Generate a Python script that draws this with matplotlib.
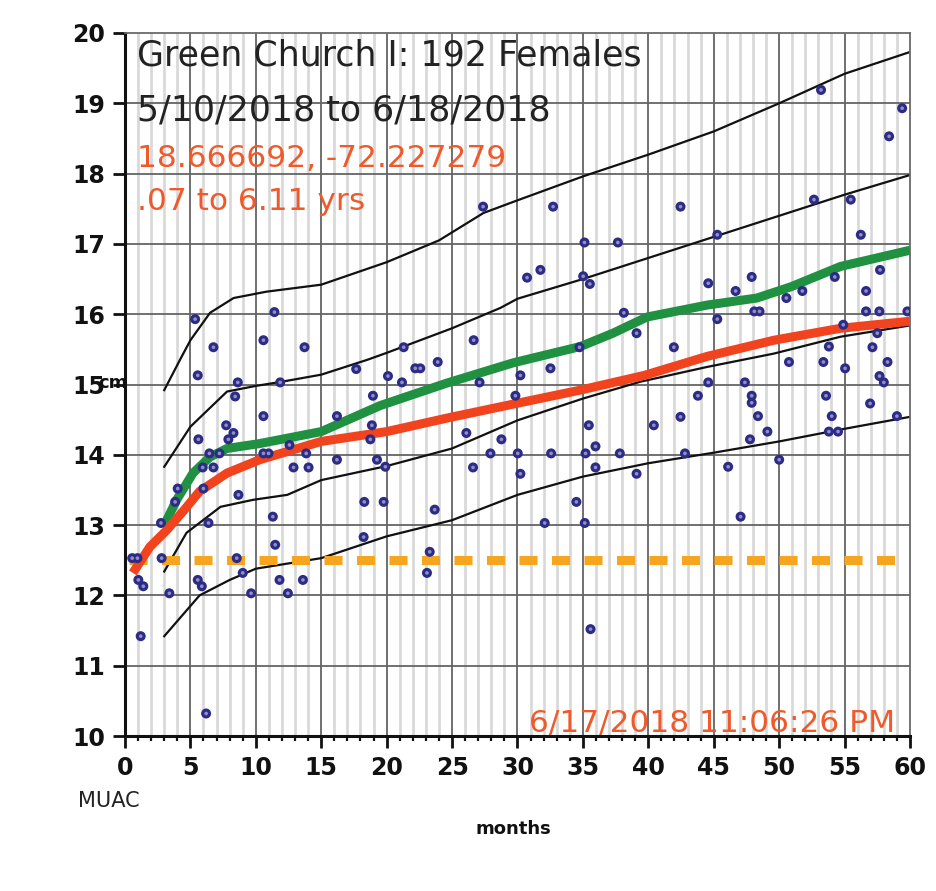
"""MUAC growth chart: Green Church I, females, with reference percentile curves."""

import matplotlib
matplotlib.use("Agg")
import matplotlib.pyplot as plt
from matplotlib.ticker import MultipleLocator

# --- data --------------------------------------------------------------------
# reference percentile curves (black)
p_top_x = [3, 4.2, 5, 6.5, 8.3, 10.8, 15, 20, 24, 27.4, 30, 35, 40, 45, 50, 55, 60]
p_top_y = [14.92, 15.35, 15.63, 16.02, 16.23, 16.32, 16.42, 16.74, 17.05, 17.44,
           17.62, 17.96, 18.27, 18.6, 19.0, 19.42, 19.73]

p_hi_x = [3, 5, 7.8, 10, 12, 15, 18.5, 20, 25, 28.7, 30, 35, 40, 45, 50, 55, 60]
p_hi_y = [13.83, 14.4, 14.9, 14.98, 15.04, 15.14, 15.35, 15.45, 15.8, 16.09,
          16.22, 16.5, 16.8, 17.1, 17.4, 17.7, 17.98]

p_mid_x = [3, 4.7, 7.3, 9.8, 12.4, 15, 20, 25, 30, 35, 39.4, 44.5, 49.6, 54.7, 60]
p_mid_y = [12.34, 12.89, 13.26, 13.36, 13.43, 13.64, 13.84, 14.09, 14.49, 14.8,
           15.04, 15.25, 15.44, 15.68, 15.84]

p_low_x = [3, 5.7, 8, 10, 15, 20, 25, 30, 35, 40, 45, 50, 55, 60]
p_low_y = [11.42, 12.0, 12.22, 12.38, 12.53, 12.84, 13.07, 13.43, 13.69, 13.88,
           14.03, 14.19, 14.37, 14.54]

# local smoothed curves
green_x = [3, 3.95, 5.2, 6.5, 7.8, 10.3, 15, 19.5, 24.6, 29.7, 34.8, 37.3, 39.9,
           44.5, 48.3, 50.9, 54.7, 60]
green_y = [13.0, 13.36, 13.74, 13.97, 14.09, 14.16, 14.33, 14.70, 15.02, 15.31,
           15.54, 15.73, 15.96, 16.13, 16.23, 16.39, 16.68, 16.91]

red_x = [0.6, 1.9, 3.2, 4.5, 5.7, 7.8, 10.3, 15, 20, 24.8, 29.9, 34.8, 39.7,
         44.5, 49.6, 54.7, 60]
red_y = [12.32, 12.69, 12.93, 13.21, 13.48, 13.74, 13.93, 14.19, 14.33, 14.53,
         14.73, 14.92, 15.13, 15.40, 15.63, 15.80, 15.90]

cutoff = 12.5
cutoff_span = [0.3, 59.3]

# individual children (age in months, MUAC in cm)
age = [5.36, 11.42, 6.76, 10.58, 13.72, 5.56, 8.62, 11.86, 8.42, 17.67, 18.95, 20.1,
       10.58, 16.2,
       27.37, 32.72, 35.12, 37.67, 30.73, 31.75, 35.02, 35.53, 38.13, 39.1, 26.65,
       21.3, 21.17, 22.19, 22.57, 23.9, 27.1, 30.22, 32.52, 34.74, 29.84,
       53.2, 59.4, 58.4, 42.46, 45.27, 52.66, 55.47, 56.24, 57.71, 44.58, 47.9,
       46.67, 50.55, 51.77, 54.25, 56.64, 48.1, 48.5, 45.27, 56.64, 57.66, 59.8,
       41.95, 54.9, 57.5, 53.8, 57.13, 50.75, 53.38, 58.28, 55.04, 44.58, 47.38,
       57.67, 58.0, 43.79, 47.9, 47.9, 53.58, 56.95, 42.46, 48.38, 54.02, 59.0,
       40.42, 42.8, 49.1, 47.77, 53.8, 54.5, 46.1, 50.0, 47.05,
       19.9, 19.77, 23.67, 23.29, 23.08, 26.09, 28.77, 27.93, 30.02, 32.57, 35.2,
       35.96, 35.45, 37.82, 26.6, 30.22, 35.96, 39.1, 34.5, 32.08, 35.14, 35.58,
       7.73, 8.29, 7.9, 5.61, 18.87, 18.75, 6.45, 7.22, 10.58, 10.97, 12.57, 13.85,
       16.2, 19.26, 5.94, 6.76, 12.88, 14.03, 4.03, 3.83, 5.99, 8.67, 11.3, 18.29,
       2.75, 6.38, 11.48, 18.24, 0.55, 0.95, 2.8, 8.54, 1.02, 1.4, 5.56, 5.87, 9.0,
       11.81, 13.6, 3.39, 9.64, 12.45, 1.2, 6.2]
muac = [15.93, 16.03, 15.53, 15.63, 15.53, 15.13, 15.03, 15.03, 14.83, 15.22, 14.84,
        15.12, 14.55, 14.55,
        17.53, 17.53, 17.02, 17.02, 16.52, 16.63, 16.54, 16.43, 16.02, 15.73, 15.63,
        15.53, 15.03, 15.23, 15.23, 15.32, 15.03, 15.13, 15.23, 15.53, 14.84,
        19.19, 18.93, 18.53, 17.53, 17.13, 17.63, 17.63, 17.13, 16.63, 16.44, 16.53,
        16.33, 16.23, 16.33, 16.53, 16.33, 16.04, 16.04, 15.93, 16.04, 16.04, 16.04,
        15.53, 15.85, 15.73, 15.54, 15.53, 15.32, 15.32, 15.32, 15.23, 15.03, 15.03,
        15.12, 15.03, 14.84, 14.84, 14.74, 14.84, 14.73, 14.54, 14.55, 14.55, 14.55,
        14.42, 14.02, 14.33, 14.22, 14.33, 14.33, 13.83, 13.93, 13.12,
        13.83, 13.33, 13.22, 12.62, 12.32, 14.31, 14.22, 14.02, 14.02, 14.02, 14.02,
        14.12, 14.42, 14.02, 13.82, 13.73, 13.82, 13.73, 13.33, 13.03, 13.03, 11.52,
        14.42, 14.31, 14.22, 14.22, 14.42, 14.22, 14.02, 14.02, 14.02, 14.02, 14.14,
        14.02, 13.93, 13.93, 13.82, 13.82, 13.82, 13.82, 13.52, 13.33, 13.52, 13.43,
        13.12, 13.33, 13.03, 13.03, 12.72, 12.83, 12.53, 12.53, 12.53, 12.53, 12.22,
        12.13, 12.22, 12.13, 12.32, 12.22, 12.22, 12.03, 12.03, 12.03, 11.42, 10.32]

x_ticks = list(range(0, 61, 5))
y_ticks = list(range(10, 21))

RED_TEXT = "#f05a2a"

fig = plt.figure(figsize=(9.37, 8.91), dpi=100)
ax = fig.add_axes([125 / 937, 1 - 736 / 891, 785 / 937, 703 / 891])

ax.set_xlim(0, 60)
ax.set_ylim(10, 20)

# grid: light monthly lines, darker 5-month and 1-cm lines
for m in range(1, 60):
    if m % 5:
        ax.axvline(m, color="#d8d8d8", lw=1.9, zorder=0)
for m in x_ticks[1:-1]:
    ax.axvline(m, color="#646464", lw=1.3, zorder=0.5)
for c in y_ticks[1:-1]:
    ax.axhline(c, color="#646464", lw=1.3, zorder=0.5)

for xs, ys in [(p_top_x, p_top_y), (p_hi_x, p_hi_y),
               (p_mid_x, p_mid_y), (p_low_x, p_low_y)]:
    ax.plot(xs, ys, color="#111111", lw=1.6, zorder=2)

ax.plot(cutoff_span, [cutoff, cutoff], color="#f6a51f", lw=6.5,
        dashes=(2.0, 1.6), solid_capstyle="butt", dash_capstyle="butt", zorder=3)
ax.plot(green_x, green_y, color="#1f9140", lw=6.5, solid_capstyle="butt", zorder=4)
ax.plot(red_x, red_y, color="#f2431f", lw=6.5, solid_capstyle="butt", zorder=4)

ax.scatter(age, muac, s=52, color="#2c2c86", edgecolors="none", zorder=5)
ax.scatter(age, muac, s=7, color="#8f8fc2", edgecolors="none", zorder=6)

# axes styling
for side in ("top", "right"):
    ax.spines[side].set_color("#6a6a6a")
    ax.spines[side].set_linewidth(1.3)
for side in ("left", "bottom"):
    ax.spines[side].set_color("#111111")
    ax.spines[side].set_linewidth(2.2)

ax.set_xticks(x_ticks)
ax.set_yticks(y_ticks)
ax.xaxis.set_minor_locator(MultipleLocator(1))
ax.tick_params(axis="both", which="major", direction="out", length=8.5,
               width=2.0, color="#111111", labelsize=17, pad=6)
ax.tick_params(axis="x", which="minor", direction="out", length=3.5,
               width=1.6, color="#111111")
for lbl in ax.get_xticklabels() + ax.get_yticklabels():
    lbl.set_fontweight("bold")
    lbl.set_color("#111111")

# annotations
ax.text(0.9, 19.68, "Green Church I: 192 Females", fontsize=25, color="#222222",
        va="center", ha="left")
ax.text(0.9, 18.9, "5/10/2018 to 6/18/2018", fontsize=25, color="#222222",
        va="center", ha="left")
ax.text(0.9, 18.22, "18.666692, -72.227279", fontsize=22.5, color=RED_TEXT,
        va="center", ha="left")
ax.text(0.9, 17.6, ".07 to 6.11 yrs", fontsize=22.5, color=RED_TEXT,
        va="center", ha="left")
ax.text(58.9, 10.05, "6/17/2018 11:06:26 PM", fontsize=22.5, color=RED_TEXT,
        va="baseline", ha="right")

fig.text(113 / 937, 1 - 383 / 891, "cm", fontsize=13, fontweight="bold",
         ha="center", va="center", color="#111111")
fig.text(78 / 937, 1 - 801 / 891, "MUAC", fontsize=15, ha="left", va="center",
         color="#222222")
fig.text(513 / 937, 1 - 829 / 891, "months", fontsize=13, fontweight="bold",
         ha="center", va="center", color="#111111")

fig.savefig("out.png", dpi=100)
